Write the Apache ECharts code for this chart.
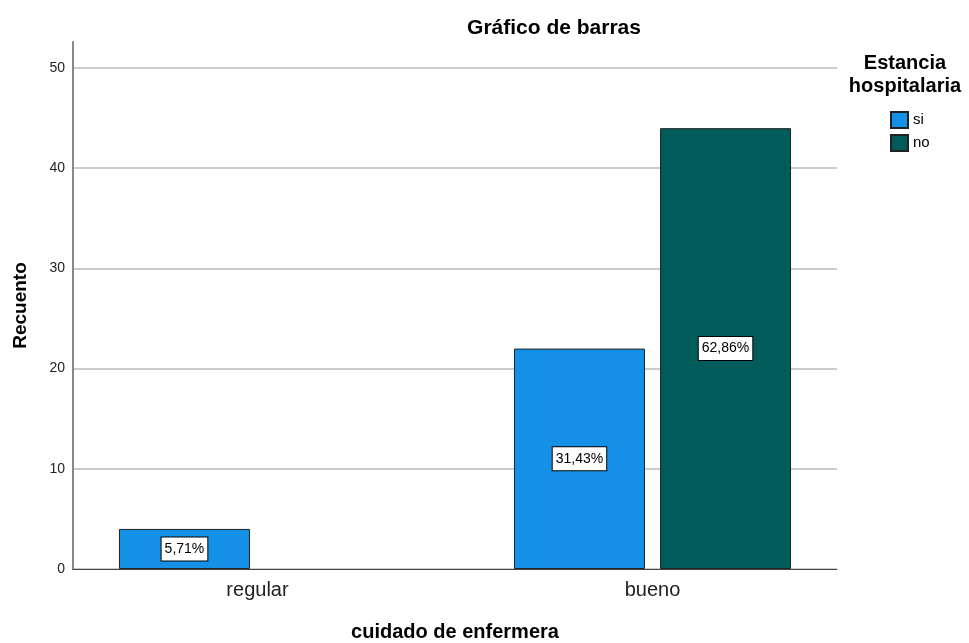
<!DOCTYPE html>
<html>
<head>
<meta charset="utf-8">
<script src="https://cdn.jsdelivr.net/npm/echarts@6/dist/echarts.min.js"></script>
<style>
  html, body { margin: 0; padding: 0; background: #fff; }
  #chart { width: 969px; height: 643px; }
</style>
</head>
<body>
<div id="chart"></div>
<script>
// datos
const categories = ['regular', 'bueno'];
const siValues = [4, 22];
const noValues = [0, 44];
const siPct = ['5,71%', '31,43%'];
const noPct = ['', '62,86%'];

const font = '"Liberation Sans", Arial, sans-serif';

// etiqueta blanca con borde negro dentro de la barra
const labelStyle = (pcts) => ({
  show: true,
  position: 'inside',
  formatter: p => pcts[p.dataIndex],
  color: '#000',
  fontFamily: font,
  fontSize: 14,
  backgroundColor: '#fff',
  borderColor: '#000',
  borderWidth: 1,
  padding: [5, 3, 4, 3]
});

// los valores 0 no se dibujan
const clean = arr => arr.map(v => v === 0 ? '-' : v);

const chart = echarts.init(document.getElementById('chart'));
chart.setOption({
  animation: false,
  title: [
    {
      text: 'Gráfico de barras',
      left: 549, top: 13, textAlign: 'center',
      textStyle: { fontFamily: font, fontSize: 21, fontWeight: 'bold', color: '#000' }
    },
    {
      text: 'Estancia\nhospitalaria',
      left: 900, top: 47, textAlign: 'center',
      textStyle: { fontFamily: font, fontSize: 20, fontWeight: 'bold', color: '#000', lineHeight: 23 }
    }
  ],
  legend: {
    data: ['si', 'no'],
    orient: 'vertical',
    left: 885, top: 106,
    itemWidth: 17, itemHeight: 16, itemGap: 5,
    icon: 'rect',
    textStyle: { fontFamily: font, fontSize: 15, color: '#000' }
  },
  grid: [
    { left: 73, right: 132, top: 42, bottom: 74, outerBoundsMode: 'none' },
    { left: 60, right: 119, top: 42, bottom: 74, outerBoundsMode: 'none' }
  ],
  xAxis: [
    {
      gridIndex: 0,
      type: 'category',
      data: categories,
      axisLine: { lineStyle: { color: '#444', width: 1 } },
      axisTick: { show: false },
      axisLabel: { show: false }
    },
    {
      gridIndex: 1,
      type: 'category',
      data: categories,
      name: 'cuidado de enfermera',
      nameLocation: 'middle',
      nameGap: 53,
      nameTextStyle: { fontFamily: font, fontSize: 20, fontWeight: 'bold', color: '#000' },
      axisLine: { show: false },
      axisTick: { show: false },
      axisLabel: { fontFamily: font, fontSize: 20, color: '#222', margin: 11 }
    }
  ],
  yAxis: [
    {
      gridIndex: 0,
      type: 'value',
      min: 0, max: 52.6, interval: 10,
      name: 'Recuento',
      nameLocation: 'middle',
      nameGap: 43,
      nameTextStyle: { fontFamily: font, fontSize: 19, fontWeight: 'bold', color: '#000' },
      axisLine: { show: true, lineStyle: { color: '#888', width: 2 } },
      axisTick: { show: false },
      axisLabel: { fontFamily: font, fontSize: 14, color: '#222', margin: 8, showMaxLabel: false },
      splitLine: { show: true, showMaxLine: false, lineStyle: { color: '#ccc', width: 2 } }
    },
    {
      gridIndex: 1,
      type: 'value',
      min: 0, max: 52.6,
      show: false
    }
  ],
  series: [
    {
      name: 'si', type: 'bar', data: clean(siValues),
      xAxisIndex: 1, yAxisIndex: 1,
      barWidth: 131, barGap: '11.5%',
      itemStyle: { color: '#1490E6', borderColor: '#222', borderWidth: 1 },
      label: labelStyle(siPct)
    },
    {
      name: 'no', type: 'bar', data: clean(noValues),
      xAxisIndex: 1, yAxisIndex: 1,
      barWidth: 131,
      itemStyle: { color: '#005B5A', borderColor: '#222', borderWidth: 1 },
      label: labelStyle(noPct)
    }
  ]
});
</script>
</body>
</html>
